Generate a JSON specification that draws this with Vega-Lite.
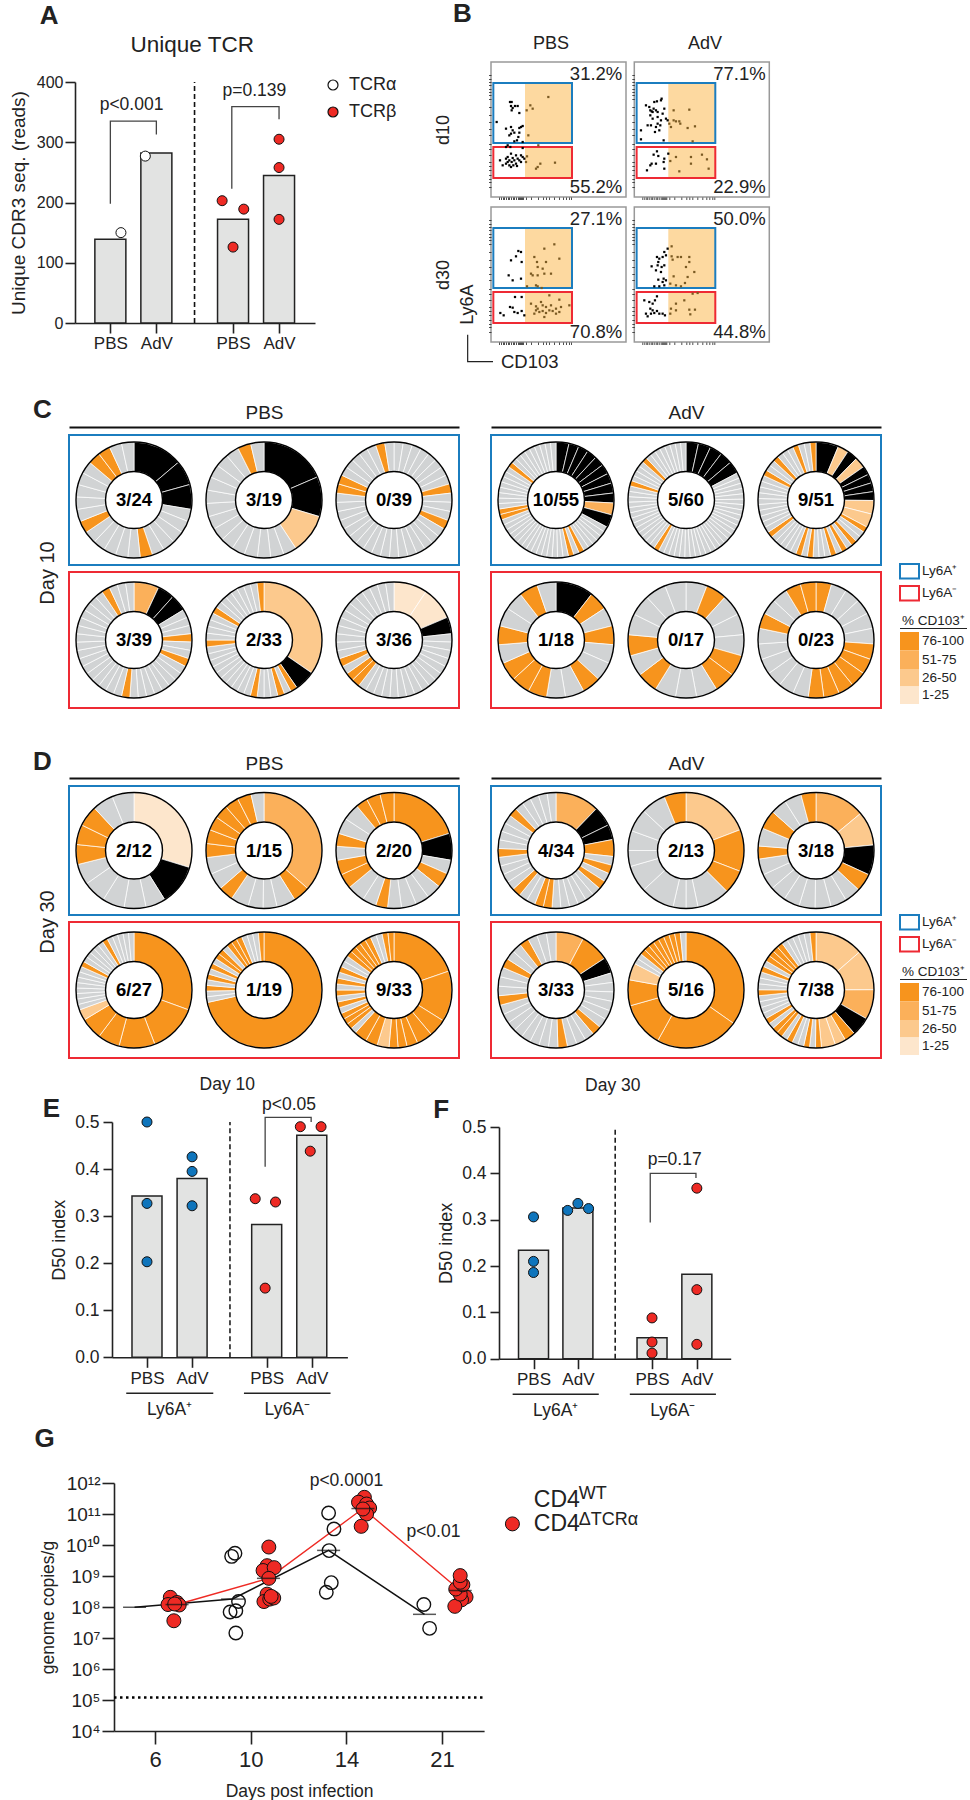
{"$schema":"https://vega.github.io/schema/vega-lite/v6.json","padding":0,"background":"#ffffff","bounds":"flush","spacing":0,
"config":{"font":"Liberation Sans","view":{"stroke":null},"axis":{"grid":false,"domainColor":"#222222","tickColor":"#222222","labelColor":"#222222","titleColor":"#222222","domainWidth":1.6,"tickWidth":1.6,"titleFontWeight":"normal","labelOverlap":false},"title":{"fontWeight":"normal","color":"#222222"},"text":{"color":"#222222"}},
"datasets":{
"slices":[
{"d":"a1","c":"k","v":4},{"d":"a1","c":"k","v":2},{"d":"a1","c":"k","v":2},{"d":"a1","c":"g","v":1},{"d":"a1","c":"g","v":1},{"d":"a1","c":"g","v":1},{"d":"a1","c":"g","v":1},{"d":"a1","c":"g","v":1},{"d":"a1","c":"O","v":1},{"d":"a1","c":"g","v":1},{"d":"a1","c":"g","v":1},{"d":"a1","c":"g","v":1},{"d":"a1","c":"g","v":1},{"d":"a1","c":"g","v":1},{"d":"a1","c":"O","v":1},{"d":"a1","c":"g","v":1},{"d":"a1","c":"g","v":1},{"d":"a1","c":"g","v":1},{"d":"a1","c":"g","v":1},{"d":"a1","c":"g","v":1},{"d":"a1","c":"O","v":1},{"d":"a1","c":"O","v":1},{"d":"a1","c":"g","v":1},{"d":"a1","c":"g","v":1},
{"d":"a2","c":"k","v":5},{"d":"a2","c":"k","v":3},{"d":"a2","c":"Q","v":3},{"d":"a2","c":"g","v":1},{"d":"a2","c":"g","v":1},{"d":"a2","c":"g","v":1},{"d":"a2","c":"g","v":1},{"d":"a2","c":"g","v":1},{"d":"a2","c":"g","v":1},{"d":"a2","c":"g","v":1},{"d":"a2","c":"g","v":1},{"d":"a2","c":"g","v":1},{"d":"a2","c":"g","v":1},{"d":"a2","c":"g","v":1},{"d":"a2","c":"g","v":1},{"d":"a2","c":"g","v":1},{"d":"a2","c":"g","v":1},{"d":"a2","c":"O","v":1},{"d":"a2","c":"g","v":1},
{"d":"a3","c":"g","v":1},{"d":"a3","c":"g","v":1},{"d":"a3","c":"g","v":1},{"d":"a3","c":"g","v":1},{"d":"a3","c":"g","v":1},{"d":"a3","c":"g","v":1},{"d":"a3","c":"g","v":1},{"d":"a3","c":"g","v":1},{"d":"a3","c":"O","v":1},{"d":"a3","c":"g","v":1},{"d":"a3","c":"g","v":1},{"d":"a3","c":"g","v":1},{"d":"a3","c":"O","v":1},{"d":"a3","c":"g","v":1},{"d":"a3","c":"g","v":1},{"d":"a3","c":"g","v":1},{"d":"a3","c":"g","v":1},{"d":"a3","c":"g","v":1},{"d":"a3","c":"g","v":1},{"d":"a3","c":"g","v":1},{"d":"a3","c":"g","v":1},{"d":"a3","c":"g","v":1},{"d":"a3","c":"g","v":1},{"d":"a3","c":"g","v":1},{"d":"a3","c":"g","v":1},{"d":"a3","c":"g","v":1},{"d":"a3","c":"g","v":1},{"d":"a3","c":"g","v":1},{"d":"a3","c":"g","v":1},{"d":"a3","c":"g","v":1},{"d":"a3","c":"O","v":1},{"d":"a3","c":"O","v":1},{"d":"a3","c":"g","v":1},{"d":"a3","c":"g","v":1},{"d":"a3","c":"g","v":1},{"d":"a3","c":"g","v":1},{"d":"a3","c":"g","v":1},{"d":"a3","c":"O","v":1},{"d":"a3","c":"g","v":1},
{"d":"b1","c":"P","v":3},{"d":"b1","c":"k","v":2},{"d":"b1","c":"k","v":2},{"d":"b1","c":"g","v":1},{"d":"b1","c":"g","v":1},{"d":"b1","c":"g","v":1},{"d":"b1","c":"O","v":1},{"d":"b1","c":"g","v":1},{"d":"b1","c":"g","v":1},{"d":"b1","c":"O","v":1},{"d":"b1","c":"g","v":1},{"d":"b1","c":"g","v":1},{"d":"b1","c":"g","v":1},{"d":"b1","c":"g","v":1},{"d":"b1","c":"g","v":1},{"d":"b1","c":"g","v":1},{"d":"b1","c":"g","v":1},{"d":"b1","c":"g","v":1},{"d":"b1","c":"O","v":1},{"d":"b1","c":"g","v":1},{"d":"b1","c":"g","v":1},{"d":"b1","c":"g","v":1},{"d":"b1","c":"g","v":1},{"d":"b1","c":"g","v":1},{"d":"b1","c":"g","v":1},{"d":"b1","c":"g","v":1},{"d":"b1","c":"g","v":1},{"d":"b1","c":"g","v":1},{"d":"b1","c":"g","v":1},{"d":"b1","c":"g","v":1},{"d":"b1","c":"g","v":1},{"d":"b1","c":"g","v":1},{"d":"b1","c":"g","v":1},{"d":"b1","c":"g","v":1},{"d":"b1","c":"g","v":1},{"d":"b1","c":"O","v":1},{"d":"b1","c":"g","v":1},{"d":"b1","c":"g","v":1},{"d":"b1","c":"g","v":1},
{"d":"b2","c":"Q","v":18},{"d":"b2","c":"k","v":3},{"d":"b2","c":"O","v":1},{"d":"b2","c":"g","v":1},{"d":"b2","c":"O","v":1},{"d":"b2","c":"g","v":1},{"d":"b2","c":"g","v":1},{"d":"b2","c":"g","v":1},{"d":"b2","c":"O","v":1},{"d":"b2","c":"g","v":1},{"d":"b2","c":"g","v":1},{"d":"b2","c":"g","v":1},{"d":"b2","c":"g","v":1},{"d":"b2","c":"g","v":1},{"d":"b2","c":"g","v":1},{"d":"b2","c":"g","v":1},{"d":"b2","c":"g","v":1},{"d":"b2","c":"g","v":1},{"d":"b2","c":"g","v":1},{"d":"b2","c":"O","v":1},{"d":"b2","c":"g","v":1},{"d":"b2","c":"g","v":1},{"d":"b2","c":"g","v":1},{"d":"b2","c":"g","v":1},{"d":"b2","c":"O","v":1},{"d":"b2","c":"g","v":1},{"d":"b2","c":"g","v":1},{"d":"b2","c":"g","v":1},{"d":"b2","c":"g","v":1},{"d":"b2","c":"g","v":1},{"d":"b2","c":"g","v":1},{"d":"b2","c":"g","v":1},{"d":"b2","c":"O","v":1},
{"d":"b3","c":"R","v":4},{"d":"b3","c":"R","v":4},{"d":"b3","c":"k","v":2},{"d":"b3","c":"g","v":1},{"d":"b3","c":"g","v":1},{"d":"b3","c":"g","v":1},{"d":"b3","c":"g","v":1},{"d":"b3","c":"g","v":1},{"d":"b3","c":"g","v":1},{"d":"b3","c":"g","v":1},{"d":"b3","c":"g","v":1},{"d":"b3","c":"g","v":1},{"d":"b3","c":"g","v":1},{"d":"b3","c":"g","v":1},{"d":"b3","c":"g","v":1},{"d":"b3","c":"g","v":1},{"d":"b3","c":"g","v":1},{"d":"b3","c":"g","v":1},{"d":"b3","c":"g","v":1},{"d":"b3","c":"O","v":1},{"d":"b3","c":"O","v":1},{"d":"b3","c":"g","v":1},{"d":"b3","c":"O","v":1},{"d":"b3","c":"g","v":1},{"d":"b3","c":"g","v":1},{"d":"b3","c":"g","v":1},{"d":"b3","c":"g","v":1},{"d":"b3","c":"g","v":1},{"d":"b3","c":"g","v":1},{"d":"b3","c":"g","v":1},{"d":"b3","c":"g","v":1},{"d":"b3","c":"g","v":1},{"d":"b3","c":"g","v":1},{"d":"b3","c":"g","v":1},{"d":"b3","c":"g","v":1},{"d":"b3","c":"g","v":1},
{"d":"c1","c":"k","v":13},{"d":"c1","c":"k","v":10},{"d":"c1","c":"k","v":10},{"d":"c1","c":"k","v":10},{"d":"c1","c":"k","v":10},{"d":"c1","c":"k","v":10},{"d":"c1","c":"k","v":10},{"d":"c1","c":"k","v":10},{"d":"c1","c":"k","v":10},{"d":"c1","c":"P","v":12},{"d":"c1","c":"k","v":13},{"d":"c1","c":"g","v":5.5},{"d":"c1","c":"g","v":5.5},{"d":"c1","c":"g","v":5.5},{"d":"c1","c":"g","v":5.5},{"d":"c1","c":"g","v":5.5},{"d":"c1","c":"g","v":5.5},{"d":"c1","c":"O","v":5.5},{"d":"c1","c":"g","v":5.5},{"d":"c1","c":"O","v":5.5},{"d":"c1","c":"g","v":5.5},{"d":"c1","c":"g","v":5.5},{"d":"c1","c":"g","v":5.5},{"d":"c1","c":"g","v":5.5},{"d":"c1","c":"g","v":5.5},{"d":"c1","c":"g","v":5.5},{"d":"c1","c":"g","v":5.5},{"d":"c1","c":"g","v":5.5},{"d":"c1","c":"g","v":5.5},{"d":"c1","c":"g","v":5.5},{"d":"c1","c":"g","v":5.5},{"d":"c1","c":"g","v":5.5},{"d":"c1","c":"g","v":5.5},{"d":"c1","c":"g","v":5.5},{"d":"c1","c":"g","v":5.5},{"d":"c1","c":"O","v":5.5},{"d":"c1","c":"O","v":5.5},{"d":"c1","c":"g","v":5.5},{"d":"c1","c":"g","v":5.5},{"d":"c1","c":"g","v":5.5},{"d":"c1","c":"g","v":5.5},{"d":"c1","c":"g","v":5.5},{"d":"c1","c":"g","v":5.5},{"d":"c1","c":"g","v":5.5},{"d":"c1","c":"g","v":5.5},{"d":"c1","c":"O","v":5.5},{"d":"c1","c":"g","v":5.5},{"d":"c1","c":"g","v":5.5},{"d":"c1","c":"g","v":5.5},{"d":"c1","c":"g","v":5.5},{"d":"c1","c":"g","v":5.5},{"d":"c1","c":"g","v":5.5},{"d":"c1","c":"g","v":5.5},{"d":"c1","c":"g","v":5.5},{"d":"c1","c":"g","v":5.5},
{"d":"c2","c":"k","v":12.4},{"d":"c2","c":"k","v":12.4},{"d":"c2","c":"k","v":12.4},{"d":"c2","c":"k","v":12.4},{"d":"c2","c":"k","v":12.4},{"d":"c2","c":"g","v":5.4},{"d":"c2","c":"g","v":5.4},{"d":"c2","c":"g","v":5.4},{"d":"c2","c":"g","v":5.4},{"d":"c2","c":"g","v":5.4},{"d":"c2","c":"g","v":5.4},{"d":"c2","c":"g","v":5.4},{"d":"c2","c":"g","v":5.4},{"d":"c2","c":"g","v":5.4},{"d":"c2","c":"g","v":5.4},{"d":"c2","c":"g","v":5.4},{"d":"c2","c":"g","v":5.4},{"d":"c2","c":"g","v":5.4},{"d":"c2","c":"g","v":5.4},{"d":"c2","c":"g","v":5.4},{"d":"c2","c":"g","v":5.4},{"d":"c2","c":"g","v":5.4},{"d":"c2","c":"g","v":5.4},{"d":"c2","c":"g","v":5.4},{"d":"c2","c":"g","v":5.4},{"d":"c2","c":"g","v":5.4},{"d":"c2","c":"g","v":5.4},{"d":"c2","c":"g","v":5.4},{"d":"c2","c":"g","v":5.4},{"d":"c2","c":"g","v":5.4},{"d":"c2","c":"g","v":5.4},{"d":"c2","c":"g","v":5.4},{"d":"c2","c":"O","v":5.4},{"d":"c2","c":"g","v":5.4},{"d":"c2","c":"g","v":5.4},{"d":"c2","c":"g","v":5.4},{"d":"c2","c":"g","v":5.4},{"d":"c2","c":"g","v":5.4},{"d":"c2","c":"g","v":5.4},{"d":"c2","c":"g","v":5.4},{"d":"c2","c":"g","v":5.4},{"d":"c2","c":"g","v":5.4},{"d":"c2","c":"g","v":5.4},{"d":"c2","c":"g","v":5.4},{"d":"c2","c":"g","v":5.4},{"d":"c2","c":"g","v":5.4},{"d":"c2","c":"O","v":5.4},{"d":"c2","c":"g","v":5.4},{"d":"c2","c":"g","v":5.4},{"d":"c2","c":"g","v":5.4},{"d":"c2","c":"g","v":5.4},{"d":"c2","c":"O","v":5.4},{"d":"c2","c":"g","v":5.4},{"d":"c2","c":"g","v":5.4},{"d":"c2","c":"g","v":5.4},{"d":"c2","c":"g","v":5.4},{"d":"c2","c":"g","v":5.4},{"d":"c2","c":"g","v":5.4},{"d":"c2","c":"g","v":5.4},{"d":"c2","c":"g","v":5.4},
{"d":"c3","c":"k","v":23},{"d":"c3","c":"Q","v":11},{"d":"c3","c":"k","v":11},{"d":"c3","c":"Q","v":11},{"d":"c3","c":"k","v":9},{"d":"c3","c":"k","v":9},{"d":"c3","c":"k","v":9},{"d":"c3","c":"k","v":9},{"d":"c3","c":"Q","v":14},{"d":"c3","c":"Q","v":14},{"d":"c3","c":"O","v":6},{"d":"c3","c":"g","v":6},{"d":"c3","c":"g","v":6},{"d":"c3","c":"O","v":6},{"d":"c3","c":"g","v":6},{"d":"c3","c":"O","v":6},{"d":"c3","c":"g","v":6},{"d":"c3","c":"O","v":6},{"d":"c3","c":"g","v":6},{"d":"c3","c":"g","v":6},{"d":"c3","c":"g","v":6},{"d":"c3","c":"O","v":6},{"d":"c3","c":"g","v":6},{"d":"c3","c":"O","v":6},{"d":"c3","c":"g","v":6},{"d":"c3","c":"g","v":6},{"d":"c3","c":"g","v":6},{"d":"c3","c":"g","v":6},{"d":"c3","c":"g","v":6},{"d":"c3","c":"O","v":6},{"d":"c3","c":"g","v":6},{"d":"c3","c":"g","v":6},{"d":"c3","c":"g","v":6},{"d":"c3","c":"g","v":6},{"d":"c3","c":"g","v":6},{"d":"c3","c":"g","v":6},{"d":"c3","c":"g","v":6},{"d":"c3","c":"g","v":6},{"d":"c3","c":"g","v":6},{"d":"c3","c":"g","v":6},{"d":"c3","c":"O","v":6},{"d":"c3","c":"g","v":6},{"d":"c3","c":"g","v":6},{"d":"c3","c":"O","v":6},{"d":"c3","c":"g","v":6},{"d":"c3","c":"g","v":6},{"d":"c3","c":"g","v":6},{"d":"c3","c":"O","v":6},{"d":"c3","c":"g","v":6},{"d":"c3","c":"g","v":6},{"d":"c3","c":"O","v":6},
{"d":"d1","c":"k","v":38},{"d":"d1","c":"O","v":19},{"d":"d1","c":"g","v":19},{"d":"d1","c":"O","v":19},{"d":"d1","c":"g","v":19},{"d":"d1","c":"g","v":19},{"d":"d1","c":"O","v":19},{"d":"d1","c":"g","v":19},{"d":"d1","c":"g","v":19},{"d":"d1","c":"O","v":19},{"d":"d1","c":"O","v":19},{"d":"d1","c":"O","v":19},{"d":"d1","c":"g","v":19},{"d":"d1","c":"O","v":19},{"d":"d1","c":"g","v":19},{"d":"d1","c":"g","v":19},{"d":"d1","c":"O","v":19},{"d":"d1","c":"g","v":19},
{"d":"d2","c":"g","v":1},{"d":"d2","c":"O","v":1},{"d":"d2","c":"g","v":1},{"d":"d2","c":"g","v":1},{"d":"d2","c":"g","v":1},{"d":"d2","c":"O","v":1},{"d":"d2","c":"O","v":1},{"d":"d2","c":"g","v":1},{"d":"d2","c":"g","v":1},{"d":"d2","c":"g","v":1},{"d":"d2","c":"O","v":1},{"d":"d2","c":"g","v":1},{"d":"d2","c":"O","v":1},{"d":"d2","c":"g","v":1},{"d":"d2","c":"g","v":1},{"d":"d2","c":"g","v":1},{"d":"d2","c":"g","v":1},
{"d":"d3","c":"O","v":1},{"d":"d3","c":"g","v":1},{"d":"d3","c":"g","v":1},{"d":"d3","c":"g","v":1},{"d":"d3","c":"g","v":1},{"d":"d3","c":"g","v":1},{"d":"d3","c":"O","v":1},{"d":"d3","c":"O","v":1},{"d":"d3","c":"O","v":1},{"d":"d3","c":"O","v":1},{"d":"d3","c":"O","v":1},{"d":"d3","c":"O","v":1},{"d":"d3","c":"g","v":1},{"d":"d3","c":"g","v":1},{"d":"d3","c":"g","v":1},{"d":"d3","c":"g","v":1},{"d":"d3","c":"g","v":1},{"d":"d3","c":"g","v":1},{"d":"d3","c":"O","v":1},{"d":"d3","c":"g","v":1},{"d":"d3","c":"g","v":1},{"d":"d3","c":"O","v":1},{"d":"d3","c":"O","v":1},
{"d":"e1","c":"R","v":107},{"d":"e1","c":"k","v":41},{"d":"e1","c":"g","v":20},{"d":"e1","c":"g","v":22},{"d":"e1","c":"g","v":22},{"d":"e1","c":"g","v":23},{"d":"e1","c":"g","v":21},{"d":"e1","c":"O","v":20},{"d":"e1","c":"O","v":20},{"d":"e1","c":"O","v":21},{"d":"e1","c":"g","v":21},{"d":"e1","c":"g","v":22},
{"d":"e2","c":"P","v":131},{"d":"e2","c":"O","v":17},{"d":"e2","c":"g","v":19},{"d":"e2","c":"g","v":14},{"d":"e2","c":"g","v":15},{"d":"e2","c":"g","v":18},{"d":"e2","c":"O","v":15},{"d":"e2","c":"g","v":17},{"d":"e2","c":"g","v":17},{"d":"e2","c":"O","v":14},{"d":"e2","c":"O","v":14},{"d":"e2","c":"O","v":14},{"d":"e2","c":"O","v":14},{"d":"e2","c":"O","v":14},{"d":"e2","c":"O","v":14},{"d":"e2","c":"g","v":13},
{"d":"e3","c":"O","v":73},{"d":"e3","c":"k","v":27},{"d":"e3","c":"g","v":14},{"d":"e3","c":"O","v":15},{"d":"e3","c":"g","v":15},{"d":"e3","c":"g","v":14},{"d":"e3","c":"g","v":15},{"d":"e3","c":"g","v":14},{"d":"e3","c":"O","v":12},{"d":"e3","c":"g","v":14},{"d":"e3","c":"g","v":18},{"d":"e3","c":"O","v":15},{"d":"e3","c":"O","v":15},{"d":"e3","c":"g","v":14},{"d":"e3","c":"O","v":13},{"d":"e3","c":"g","v":16},{"d":"e3","c":"g","v":17},{"d":"e3","c":"O","v":12},{"d":"e3","c":"O","v":14},{"d":"e3","c":"O","v":14},
{"d":"f1","c":"O","v":110},{"d":"f1","c":"O","v":49},{"d":"f1","c":"O","v":36},{"d":"f1","c":"O","v":22},{"d":"f1","c":"O","v":22},{"d":"f1","c":"Q","v":11},{"d":"f1","c":"g","v":5.5},{"d":"f1","c":"g","v":5.5},{"d":"f1","c":"g","v":5.5},{"d":"f1","c":"g","v":5.5},{"d":"f1","c":"g","v":5.5},{"d":"f1","c":"g","v":5.5},{"d":"f1","c":"g","v":5.5},{"d":"f1","c":"g","v":5.5},{"d":"f1","c":"O","v":5.5},{"d":"f1","c":"g","v":5.5},{"d":"f1","c":"g","v":5.5},{"d":"f1","c":"g","v":5.5},{"d":"f1","c":"g","v":5.5},{"d":"f1","c":"g","v":5.5},{"d":"f1","c":"O","v":5.5},{"d":"f1","c":"g","v":5.5},{"d":"f1","c":"g","v":5.5},{"d":"f1","c":"g","v":5.5},{"d":"f1","c":"g","v":5.5},{"d":"f1","c":"g","v":5.5},
{"d":"f2","c":"O","v":258},{"d":"f2","c":"g","v":5.7},{"d":"f2","c":"g","v":5.7},{"d":"f2","c":"O","v":5.7},{"d":"f2","c":"g","v":5.7},{"d":"f2","c":"O","v":5.7},{"d":"f2","c":"g","v":5.7},{"d":"f2","c":"O","v":5.7},{"d":"f2","c":"g","v":5.7},{"d":"f2","c":"O","v":5.7},{"d":"f2","c":"O","v":5.7},{"d":"f2","c":"g","v":5.7},{"d":"f2","c":"O","v":5.7},{"d":"f2","c":"O","v":5.7},{"d":"f2","c":"O","v":5.7},{"d":"f2","c":"g","v":5.7},{"d":"f2","c":"g","v":5.7},{"d":"f2","c":"g","v":5.7},{"d":"f2","c":"O","v":5.7},
{"d":"f3","c":"O","v":71},{"d":"f3","c":"O","v":51},{"d":"f3","c":"O","v":18},{"d":"f3","c":"O","v":16},{"d":"f3","c":"O","v":11},{"d":"f3","c":"O","v":9},{"d":"f3","c":"O","v":9},{"d":"f3","c":"Q","v":12},{"d":"f3","c":"O","v":12},{"d":"f3","c":"O","v":13},{"d":"f3","c":"g","v":6},{"d":"f3","c":"O","v":6},{"d":"f3","c":"O","v":6},{"d":"f3","c":"O","v":6},{"d":"f3","c":"g","v":6},{"d":"f3","c":"O","v":6},{"d":"f3","c":"g","v":6},{"d":"f3","c":"O","v":6},{"d":"f3","c":"g","v":6},{"d":"f3","c":"O","v":6},{"d":"f3","c":"g","v":6},{"d":"f3","c":"O","v":6},{"d":"f3","c":"g","v":6},{"d":"f3","c":"g","v":6},{"d":"f3","c":"O","v":6},{"d":"f3","c":"O","v":6},{"d":"f3","c":"O","v":6},{"d":"f3","c":"O","v":6},{"d":"f3","c":"O","v":6},{"d":"f3","c":"g","v":6},{"d":"f3","c":"g","v":6},{"d":"f3","c":"O","v":6},{"d":"f3","c":"O","v":6},
{"d":"g1","c":"P","v":44},{"d":"g1","c":"k","v":20},{"d":"g1","c":"k","v":15},{"d":"g1","c":"O","v":17},{"d":"g1","c":"g","v":8.8},{"d":"g1","c":"O","v":8.8},{"d":"g1","c":"g","v":8.8},{"d":"g1","c":"O","v":8.8},{"d":"g1","c":"g","v":8.8},{"d":"g1","c":"g","v":8.8},{"d":"g1","c":"g","v":8.8},{"d":"g1","c":"g","v":8.8},{"d":"g1","c":"g","v":8.8},{"d":"g1","c":"g","v":8.8},{"d":"g1","c":"O","v":8.8},{"d":"g1","c":"O","v":8.8},{"d":"g1","c":"g","v":8.8},{"d":"g1","c":"g","v":8.8},{"d":"g1","c":"O","v":8.8},{"d":"g1","c":"g","v":8.8},{"d":"g1","c":"g","v":8.8},{"d":"g1","c":"g","v":8.8},{"d":"g1","c":"g","v":8.8},{"d":"g1","c":"O","v":8.8},{"d":"g1","c":"g","v":8.8},{"d":"g1","c":"g","v":8.8},{"d":"g1","c":"g","v":8.8},{"d":"g1","c":"g","v":8.8},{"d":"g1","c":"O","v":8.8},{"d":"g1","c":"g","v":8.8},{"d":"g1","c":"g","v":8.8},{"d":"g1","c":"g","v":8.8},{"d":"g1","c":"g","v":8.8},{"d":"g1","c":"g","v":8.8},
{"d":"g2","c":"Q","v":69},{"d":"g2","c":"O","v":42},{"d":"g2","c":"O","v":24},{"d":"g2","c":"g","v":33},{"d":"g2","c":"g","v":12},{"d":"g2","c":"g","v":13},{"d":"g2","c":"g","v":34},{"d":"g2","c":"g","v":27},{"d":"g2","c":"g","v":16},{"d":"g2","c":"g","v":20},{"d":"g2","c":"g","v":23},{"d":"g2","c":"g","v":25},{"d":"g2","c":"O","v":22},
{"d":"g3","c":"P","v":50},{"d":"g3","c":"Q","v":34},{"d":"g3","c":"k","v":30},{"d":"g3","c":"O","v":18},{"d":"g3","c":"g","v":16},{"d":"g3","c":"g","v":16},{"d":"g3","c":"g","v":16},{"d":"g3","c":"g","v":16},{"d":"g3","c":"g","v":16},{"d":"g3","c":"g","v":16},{"d":"g3","c":"g","v":16},{"d":"g3","c":"g","v":16},{"d":"g3","c":"O","v":13},{"d":"g3","c":"g","v":18},{"d":"g3","c":"O","v":19},{"d":"g3","c":"g","v":16},{"d":"g3","c":"g","v":17},{"d":"g3","c":"O","v":15},
{"d":"h1","c":"P","v":28},{"d":"h1","c":"O","v":29},{"d":"h1","c":"k","v":16},{"d":"h1","c":"g","v":9.6},{"d":"h1","c":"g","v":9.6},{"d":"h1","c":"g","v":9.6},{"d":"h1","c":"g","v":9.6},{"d":"h1","c":"g","v":9.6},{"d":"h1","c":"g","v":9.6},{"d":"h1","c":"O","v":9.6},{"d":"h1","c":"g","v":9.6},{"d":"h1","c":"g","v":9.6},{"d":"h1","c":"g","v":9.6},{"d":"h1","c":"O","v":9.6},{"d":"h1","c":"g","v":9.6},{"d":"h1","c":"g","v":9.6},{"d":"h1","c":"g","v":9.6},{"d":"h1","c":"g","v":9.6},{"d":"h1","c":"g","v":9.6},{"d":"h1","c":"g","v":9.6},{"d":"h1","c":"g","v":9.6},{"d":"h1","c":"g","v":9.6},{"d":"h1","c":"O","v":9.6},{"d":"h1","c":"g","v":9.6},{"d":"h1","c":"g","v":9.6},{"d":"h1","c":"g","v":9.6},{"d":"h1","c":"O","v":9.6},{"d":"h1","c":"g","v":9.6},{"d":"h1","c":"g","v":9.6},{"d":"h1","c":"O","v":9.6},{"d":"h1","c":"g","v":9.6},{"d":"h1","c":"g","v":9.6},{"d":"h1","c":"g","v":9.6},
{"d":"h2","c":"O","v":125},{"d":"h2","c":"O","v":84},{"d":"h2","c":"O","v":45},{"d":"h2","c":"O","v":26},{"d":"h2","c":"Q","v":17},{"d":"h2","c":"g","v":5.7},{"d":"h2","c":"g","v":5.7},{"d":"h2","c":"O","v":5.7},{"d":"h2","c":"O","v":5.7},{"d":"h2","c":"O","v":5.7},{"d":"h2","c":"O","v":5.7},{"d":"h2","c":"O","v":5.7},{"d":"h2","c":"O","v":5.7},{"d":"h2","c":"O","v":5.7},{"d":"h2","c":"O","v":5.7},{"d":"h2","c":"g","v":5.7},
{"d":"h3","c":"Q","v":49},{"d":"h3","c":"Q","v":41},{"d":"h3","c":"P","v":30},{"d":"h3","c":"k","v":19},{"d":"h3","c":"O","v":11},{"d":"h3","c":"Q","v":11},{"d":"h3","c":"Q","v":14},{"d":"h3","c":"O","v":6},{"d":"h3","c":"g","v":6},{"d":"h3","c":"O","v":6},{"d":"h3","c":"g","v":6},{"d":"h3","c":"g","v":6},{"d":"h3","c":"O","v":6},{"d":"h3","c":"g","v":6},{"d":"h3","c":"O","v":6},{"d":"h3","c":"O","v":6},{"d":"h3","c":"g","v":6},{"d":"h3","c":"O","v":6},{"d":"h3","c":"g","v":6},{"d":"h3","c":"g","v":6},{"d":"h3","c":"g","v":6},{"d":"h3","c":"g","v":6},{"d":"h3","c":"O","v":6},{"d":"h3","c":"g","v":6},{"d":"h3","c":"g","v":6},{"d":"h3","c":"g","v":6},{"d":"h3","c":"O","v":6},{"d":"h3","c":"g","v":6},{"d":"h3","c":"O","v":6},{"d":"h3","c":"O","v":6},{"d":"h3","c":"O","v":6},{"d":"h3","c":"O","v":6},{"d":"h3","c":"g","v":6},{"d":"h3","c":"g","v":6},{"d":"h3","c":"g","v":6},{"d":"h3","c":"g","v":6},{"d":"h3","c":"g","v":6},{"d":"h3","c":"O","v":6}
],
"donuts":[{"d":"a1","t":"3/24"},{"d":"a2","t":"3/19"},{"d":"a3","t":"0/39"},{"d":"b1","t":"3/39"},{"d":"b2","t":"2/33"},{"d":"b3","t":"3/36"},{"d":"c1","t":"10/55"},{"d":"c2","t":"5/60"},{"d":"c3","t":"9/51"},{"d":"d1","t":"1/18"},{"d":"d2","t":"0/17"},{"d":"d3","t":"0/23"},{"d":"e1","t":"2/12"},{"d":"e2","t":"1/15"},{"d":"e3","t":"2/20"},{"d":"f1","t":"6/27"},{"d":"f2","t":"1/19"},{"d":"f3","t":"9/33"},{"d":"g1","t":"4/34"},{"d":"g2","t":"2/13"},{"d":"g3","t":"3/18"},{"d":"h1","t":"3/33"},{"d":"h2","t":"5/16"},{"d":"h3","t":"7/38"}],
"orangeGate":[{"x":102,"x2":243,"y":63,"y2":243},{"x":102,"x2":243,"y":255,"y2":348}],
"boxGate":[{"x":7,"x2":243,"y":63,"y2":243,"s":"b"},{"x":7,"x2":243,"y":255,"y2":348,"s":"r"}],
"facs":[
{"p":1,"x":57,"y":120},{"p":1,"x":62,"y":120},{"p":1,"x":60,"y":132},{"p":1,"x":65,"y":138},{"p":1,"x":72,"y":132},{"p":1,"x":80,"y":132},{"p":1,"x":62,"y":145},{"p":1,"x":85,"y":153},{"p":1,"x":17,"y":180},{"p":1,"x":60,"y":195},{"p":1,"x":45,"y":200},{"p":1,"x":65,"y":205},{"p":1,"x":85,"y":198},{"p":1,"x":90,"y":195},{"p":1,"x":95,"y":192},{"p":1,"x":60,"y":215},{"p":1,"x":70,"y":212},{"p":1,"x":55,"y":220},{"p":1,"x":85,"y":212},{"p":1,"x":82,"y":225},{"p":1,"x":78,"y":235},{"p":1,"x":70,"y":238},{"p":1,"x":107,"y":145},{"p":1,"x":118,"y":130},{"p":1,"x":125,"y":140},{"p":1,"x":172,"y":105},{"p":1,"x":112,"y":220},{"p":1,"x":50,"y":250},{"p":1,"x":45,"y":255},{"p":1,"x":58,"y":255},{"p":1,"x":95,"y":258},{"p":1,"x":142,"y":250},{"p":1,"x":95,"y":240},{"p":1,"x":27,"y":295},{"p":1,"x":45,"y":290},{"p":1,"x":50,"y":285},{"p":1,"x":55,"y":295},{"p":1,"x":60,"y":275},{"p":1,"x":62,"y":300},{"p":1,"x":65,"y":288},{"p":1,"x":70,"y":295},{"p":1,"x":75,"y":280},{"p":1,"x":75,"y":305},{"p":1,"x":80,"y":290},{"p":1,"x":85,"y":295},{"p":1,"x":55,"y":310},{"p":1,"x":60,"y":315},{"p":1,"x":67,"y":310},{"p":1,"x":45,"y":305},{"p":1,"x":50,"y":300},{"p":1,"x":35,"y":310},{"p":1,"x":78,"y":312},{"p":1,"x":90,"y":300},{"p":1,"x":95,"y":285},{"p":1,"x":100,"y":290},{"p":1,"x":90,"y":280},{"p":1,"x":108,"y":283},{"p":1,"x":105,"y":300},{"p":1,"x":135,"y":320},{"p":1,"x":140,"y":315},{"p":1,"x":148,"y":305},{"p":1,"x":192,"y":302},
{"p":2,"x":20,"y":205},{"p":2,"x":20,"y":232},{"p":2,"x":35,"y":130},{"p":2,"x":45,"y":135},{"p":2,"x":48,"y":145},{"p":2,"x":52,"y":148},{"p":2,"x":55,"y":150},{"p":2,"x":58,"y":140},{"p":2,"x":65,"y":145},{"p":2,"x":70,"y":150},{"p":2,"x":60,"y":120},{"p":2,"x":68,"y":118},{"p":2,"x":80,"y":115},{"p":2,"x":82,"y":110},{"p":2,"x":90,"y":140},{"p":2,"x":85,"y":155},{"p":2,"x":48,"y":160},{"p":2,"x":55,"y":170},{"p":2,"x":70,"y":165},{"p":2,"x":40,"y":190},{"p":2,"x":50,"y":190},{"p":2,"x":65,"y":195},{"p":2,"x":70,"y":185},{"p":2,"x":78,"y":190},{"p":2,"x":75,"y":205},{"p":2,"x":62,"y":210},{"p":2,"x":80,"y":175},{"p":2,"x":95,"y":170},{"p":2,"x":100,"y":175},{"p":2,"x":88,"y":235},{"p":2,"x":118,"y":145},{"p":2,"x":165,"y":143},{"p":2,"x":118,"y":175},{"p":2,"x":125,"y":178},{"p":2,"x":135,"y":178},{"p":2,"x":138,"y":185},{"p":2,"x":110,"y":195},{"p":2,"x":160,"y":198},{"p":2,"x":182,"y":193},{"p":2,"x":175,"y":238},{"p":2,"x":105,"y":185},{"p":2,"x":68,"y":268},{"p":2,"x":58,"y":278},{"p":2,"x":72,"y":282},{"p":2,"x":52,"y":305},{"p":2,"x":38,"y":325},{"p":2,"x":48,"y":310},{"p":2,"x":65,"y":305},{"p":2,"x":88,"y":300},{"p":2,"x":90,"y":320},{"p":2,"x":102,"y":275},{"p":2,"x":90,"y":290},{"p":2,"x":125,"y":285},{"p":2,"x":108,"y":297},{"p":2,"x":170,"y":285},{"p":2,"x":170,"y":305},{"p":2,"x":203,"y":278},{"p":2,"x":218,"y":292},{"p":2,"x":223,"y":320},{"p":2,"x":135,"y":328},
{"p":3,"x":82,"y":132},{"p":3,"x":90,"y":135},{"p":3,"x":75,"y":148},{"p":3,"x":60,"y":160},{"p":3,"x":92,"y":165},{"p":3,"x":53,"y":205},{"p":3,"x":65,"y":220},{"p":3,"x":90,"y":215},{"p":3,"x":190,"y":112},{"p":3,"x":160,"y":125},{"p":3,"x":205,"y":155},{"p":3,"x":130,"y":150},{"p":3,"x":165,"y":165},{"p":3,"x":138,"y":165},{"p":3,"x":140,"y":180},{"p":3,"x":155,"y":185},{"p":3,"x":120,"y":200},{"p":3,"x":125,"y":205},{"p":3,"x":140,"y":205},{"p":3,"x":160,"y":200},{"p":3,"x":180,"y":200},{"p":3,"x":108,"y":238},{"p":3,"x":135,"y":235},{"p":3,"x":140,"y":238},{"p":3,"x":152,"y":243},{"p":3,"x":72,"y":270},{"p":3,"x":92,"y":270},{"p":3,"x":57,"y":300},{"p":3,"x":65,"y":302},{"p":3,"x":28,"y":318},{"p":3,"x":38,"y":325},{"p":3,"x":70,"y":315},{"p":3,"x":80,"y":318},{"p":3,"x":92,"y":312},{"p":3,"x":100,"y":325},{"p":3,"x":175,"y":265},{"p":3,"x":205,"y":278},{"p":3,"x":150,"y":285},{"p":3,"x":120,"y":290},{"p":3,"x":135,"y":298},{"p":3,"x":155,"y":295},{"p":3,"x":165,"y":300},{"p":3,"x":180,"y":295},{"p":3,"x":195,"y":305},{"p":3,"x":210,"y":300},{"p":3,"x":135,"y":310},{"p":3,"x":145,"y":315},{"p":3,"x":155,"y":312},{"p":3,"x":165,"y":318},{"p":3,"x":175,"y":310},{"p":3,"x":185,"y":312},{"p":3,"x":195,"y":320},{"p":3,"x":205,"y":315},{"p":3,"x":235,"y":295},{"p":3,"x":160,"y":330},{"p":3,"x":130,"y":320},{"p":3,"x":140,"y":305},
{"p":4,"x":68,"y":150},{"p":4,"x":75,"y":155},{"p":4,"x":85,"y":150},{"p":4,"x":90,"y":135},{"p":4,"x":95,"y":145},{"p":4,"x":72,"y":165},{"p":4,"x":100,"y":125},{"p":4,"x":52,"y":178},{"p":4,"x":70,"y":175},{"p":4,"x":82,"y":180},{"p":4,"x":90,"y":175},{"p":4,"x":65,"y":190},{"p":4,"x":80,"y":195},{"p":4,"x":88,"y":215},{"p":4,"x":72,"y":218},{"p":4,"x":95,"y":220},{"p":4,"x":85,"y":225},{"p":4,"x":60,"y":238},{"p":4,"x":75,"y":238},{"p":4,"x":90,"y":235},{"p":4,"x":112,"y":118},{"p":4,"x":112,"y":148},{"p":4,"x":130,"y":150},{"p":4,"x":140,"y":150},{"p":4,"x":165,"y":150},{"p":4,"x":115,"y":158},{"p":4,"x":165,"y":165},{"p":4,"x":155,"y":180},{"p":4,"x":160,"y":210},{"p":4,"x":118,"y":208},{"p":4,"x":108,"y":230},{"p":4,"x":125,"y":235},{"p":4,"x":140,"y":238},{"p":4,"x":152,"y":228},{"p":4,"x":180,"y":195},{"p":4,"x":68,"y":268},{"p":4,"x":30,"y":280},{"p":4,"x":45,"y":285},{"p":4,"x":55,"y":290},{"p":4,"x":62,"y":280},{"p":4,"x":35,"y":320},{"p":4,"x":48,"y":305},{"p":4,"x":55,"y":310},{"p":4,"x":60,"y":318},{"p":4,"x":68,"y":312},{"p":4,"x":75,"y":320},{"p":4,"x":85,"y":320},{"p":4,"x":40,"y":328},{"p":4,"x":92,"y":325},{"p":4,"x":50,"y":320},{"p":4,"x":175,"y":260},{"p":4,"x":190,"y":258},{"p":4,"x":150,"y":280},{"p":4,"x":125,"y":290},{"p":4,"x":110,"y":305},{"p":4,"x":125,"y":310},{"p":4,"x":165,"y":308},{"p":4,"x":182,"y":308},{"p":4,"x":168,"y":322},{"p":4,"x":108,"y":320}
],
"pct":[{"p":1,"x":394,"y":36,"t":"31.2%"},{"p":1,"x":394,"y":376,"t":"55.2%"},{"p":2,"x":394,"y":36,"t":"77.1%"},{"p":2,"x":394,"y":376,"t":"22.9%"},{"p":3,"x":394,"y":36,"t":"27.1%"},{"p":3,"x":394,"y":376,"t":"70.8%"},{"p":4,"x":394,"y":36,"t":"50.0%"},{"p":4,"x":394,"y":376,"t":"44.8%"}],
"swatch":[{"t":"76-100","c":"O","x":0,"x2":19,"y":197,"y2":215.5,"ty":206},{"t":"51-75","c":"P","x":0,"x2":19,"y":215.5,"y2":234,"ty":225},{"t":"26-50","c":"Q","x":0,"x2":19,"y":234,"y2":251.5,"ty":243},{"t":"1-25","c":"R","x":0,"x2":19,"y":251.5,"y2":269,"ty":260}],
"legBox":[{"x":0,"x2":19,"y":129,"y2":143.5,"s":"b"},{"x":0,"x2":19,"y":151,"y2":165.5,"s":"r"}],
"legText":[{"t":"Ly6A⁺","x":22,"y":136},{"t":"Ly6A⁻","x":22,"y":158},{"t":"% CD103⁺","x":2,"y":186}]
},
"vconcat":[
{"width":1,"height":60,"data":{"values":[{}]},"mark":{"type":"text","text":""}},
{"bounds":"flush","spacing":0,"hconcat":[
{"width":75,"height":1,"data":{"values":[{}]},"mark":{"type":"text","text":""}},
{"bounds":"flush","spacing":0,"vconcat":[
{"width":1,"height":20,"data":{"values":[{}]},"mark":{"type":"text","text":""}},
{"width":240,"height":241,
"encoding":{"x":{"field":"pos","type":"quantitative","scale":{"domain":[0.34,5.34],"nice":false,"zero":false},"axis":{"values":[1,2,3.667,4.667],"labelExpr":"datum.value<2||(datum.value>3&&datum.value<4)?'PBS':'AdV'","tickSize":10,"title":null,"labelFontSize":17,"labelPadding":2}},"y":{"field":"v","type":"quantitative","stack":null,"scale":{"domain":[0,400],"nice":false},"axis":{"values":[0,100,200,300,400],"tickSize":10,"labelFontSize":16,"labelPadding":2,"title":"Unique CDR3 seq. (reads)","titleFontSize":19,"titlePadding":8}}},
"layer":[
{"data":{"values":[{"pos":1,"v":139,"g":"PBS TCRα"},{"pos":2,"v":282,"g":"AdV TCRα"},{"pos":3.667,"v":172,"g":"PBS TCRβ"},{"pos":4.667,"v":245,"g":"AdV TCRβ"}]},"mark":{"type":"bar","orient":"vertical","width":31,"fill":"#e2e3e2","stroke":"#222222","strokeWidth":1.5}},
{"data":{"values":[{"pos":2.83,"v":0,"v2":400}]},"mark":{"type":"rule","strokeDash":[5,3],"strokeWidth":1.6,"color":"#111111"},"encoding":{"y2":{"field":"v2"}}},
{"data":{"values":[{"g":"a","pos":1,"v":198},{"g":"a","pos":1,"v":335},{"g":"a","pos":2,"v":335},{"g":"a","pos":2,"v":313},{"g":"b","pos":3.64,"v":223},{"g":"b","pos":3.64,"v":359},{"g":"b","pos":4.667,"v":359},{"g":"b","pos":4.667,"v":338}]},"mark":{"type":"line","color":"#444444","strokeWidth":1.3},"encoding":{"detail":{"field":"g"}}},
{"data":{"values":[{"pos":1.23,"v":150,"s":"TCRα"},{"pos":1.76,"v":277,"s":"TCRα"},{"pos":3.43,"v":203,"s":"TCRβ"},{"pos":3.9,"v":189,"s":"TCRβ"},{"pos":3.667,"v":126,"s":"TCRβ"},{"pos":4.667,"v":305,"s":"TCRβ"},{"pos":4.667,"v":258,"s":"TCRβ"},{"pos":4.667,"v":172,"s":"TCRβ"}]},"mark":{"type":"point","filled":true,"opacity":1,"stroke":"#111111","strokeWidth":1,"size":100},"encoding":{"fill":{"field":"s","type":"nominal","scale":{"domain":["TCRα","TCRβ"],"range":["#ffffff","#ee2a24"]},"legend":{"title":null,"orient":"none","legendX":324,"legendY":74,"symbolType":"circle","symbolSize":100,"symbolStrokeColor":"#111111","symbolStrokeWidth":1.2,"labelFontSize":18,"labelColor":"#222222","rowPadding":9,"labelOffset":7}}}},
{"data":{"values":[{"pos":1.46,"v":362,"t":"p<0.001"},{"pos":4.13,"v":385,"t":"p=0.139"}]},"mark":{"type":"text","fontSize":17.5},"encoding":{"text":{"field":"t"}}},
{"data":{"values":[{"pos":2.78,"v":461,"t":"Unique TCR"}]},"mark":{"type":"text","fontSize":22.5},"encoding":{"text":{"field":"t"}}},
{"data":{"values":[{"pos":-0.535,"v":509,"t":"A"}]},"mark":{"type":"text","fontSize":26,"fontWeight":"bold","align":"left"},"encoding":{"text":{"field":"t"}}}
]}
]},
{"width":416,"height":1,"data":{"values":[{}]},"mark":{"type":"text","text":""}},
{"bounds":"flush","spacing":0,"vconcat":[
{"bounds":"flush","spacing":8.3,"hconcat":[
{"width":135,"height":135,"view":{"stroke":"#999999","strokeWidth":1.5},"encoding":{"x":{"field":"x","type":"quantitative","scale":{"domain":[0,405],"nice":false},"axis":{"values":[25,30,35,40,45,50,55,60,65,70,75,80,85,88,90,92,95,105,120,140,155,165,175,190,205,215,225,235,240],"labels":false,"domain":false,"tickSize":2.5,"tickWidth":0.8,"title":null}},"y":{"field":"y","type":"quantitative","scale":{"domain":[405,0],"nice":false},"axis":{"values":[38,50,60,70,80,90,100,110,135,160,180,200,220,245,260,280,300,312,325,340,350,360,375],"labels":false,"domain":false,"tickSize":2.5,"tickWidth":0.8,"title":"d10","titleFontSize":18,"titlePadding":36}}},
"layer":[
{"data":{"name":"orangeGate"},"mark":{"type":"rect","fill":"#fdd9a0"},"encoding":{"x2":{"field":"x2"},"y2":{"field":"y2"}}},
{"data":{"name":"boxGate"},"mark":{"type":"rect","fillOpacity":0,"strokeWidth":2},"encoding":{"x2":{"field":"x2"},"y2":{"field":"y2"},"stroke":{"field":"s","type":"nominal","scale":{"domain":["b","r"],"range":["#1b7dbf","#ee2a34"]},"legend":null}}},
{"data":{"name":"facs"},"transform":[{"filter":"datum.p==1"}],"mark":{"type":"square","size":5,"opacity":1},"encoding":{"color":{"condition":{"test":"datum.x>102","value":"#7a5a22"},"value":"#000000"}}},
{"data":{"name":"pct"},"transform":[{"filter":"datum.p==1"}],"mark":{"type":"text","fontSize":18.5,"align":"right"},"encoding":{"text":{"field":"t"}}},
{"data":{"values":[{"x":180,"y":-53,"t":"PBS"}]},"mark":{"type":"text","fontSize":18},"encoding":{"text":{"field":"t"}}},
{"data":{"values":[{"x":-114,"y":-143,"t":"B"}]},"mark":{"type":"text","fontSize":26,"fontWeight":"bold","align":"left"},"encoding":{"text":{"field":"t"}}}
]},
{"width":135,"height":135,"view":{"stroke":"#999999","strokeWidth":1.5},"encoding":{"x":{"field":"x","type":"quantitative","scale":{"domain":[0,405],"nice":false},"axis":{"values":[25,30,35,40,45,50,55,60,65,70,75,80,85,88,90,92,95,105,120,140,155,165,175,190,205,215,225,235,240],"labels":false,"domain":false,"tickSize":2.5,"tickWidth":0.8,"title":null}},"y":{"field":"y","type":"quantitative","scale":{"domain":[405,0],"nice":false},"axis":{"values":[38,50,60,70,80,90,100,110,135,160,180,200,220,245,260,280,300,312,325,340,350,360,375],"labels":false,"domain":false,"tickSize":2.5,"tickWidth":0.8,"title":null}}},
"layer":[
{"data":{"name":"orangeGate"},"mark":{"type":"rect","fill":"#fdd9a0"},"encoding":{"x2":{"field":"x2"},"y2":{"field":"y2"}}},
{"data":{"name":"boxGate"},"mark":{"type":"rect","fillOpacity":0,"strokeWidth":2},"encoding":{"x2":{"field":"x2"},"y2":{"field":"y2"},"stroke":{"field":"s","type":"nominal","scale":{"domain":["b","r"],"range":["#1b7dbf","#ee2a34"]},"legend":null}}},
{"data":{"name":"facs"},"transform":[{"filter":"datum.p==2"}],"mark":{"type":"square","size":5,"opacity":1},"encoding":{"color":{"condition":{"test":"datum.x>102","value":"#7a5a22"},"value":"#000000"}}},
{"data":{"name":"pct"},"transform":[{"filter":"datum.p==2"}],"mark":{"type":"text","fontSize":18.5,"align":"right"},"encoding":{"text":{"field":"t"}}},
{"data":{"values":[{"x":212,"y":-53,"t":"AdV"}]},"mark":{"type":"text","fontSize":18},"encoding":{"text":{"field":"t"}}}
]}
]},
{"width":1,"height":144.6,"data":{"values":[{}]},"mark":{"type":"text","text":""}},
{"bounds":"flush","spacing":8.3,"hconcat":[
{"width":135,"height":135,"view":{"stroke":"#999999","strokeWidth":1.5},"encoding":{"x":{"field":"x","type":"quantitative","scale":{"domain":[0,405],"nice":false},"axis":{"values":[25,30,35,40,45,50,55,60,65,70,75,80,85,88,90,92,95,105,120,140,155,165,175,190,205,215,225,235,240],"labels":false,"domain":false,"tickSize":2.5,"tickWidth":0.8,"title":null}},"y":{"field":"y","type":"quantitative","scale":{"domain":[405,0],"nice":false},"axis":{"values":[38,50,60,70,80,90,100,110,135,160,180,200,220,245,260,280,300,312,325,340,350,360,375],"labels":false,"domain":false,"tickSize":2.5,"tickWidth":0.8,"title":"d30","titleFontSize":18,"titlePadding":36}}},
"layer":[
{"data":{"name":"orangeGate"},"mark":{"type":"rect","fill":"#fdd9a0"},"encoding":{"x2":{"field":"x2"},"y2":{"field":"y2"}}},
{"data":{"name":"boxGate"},"mark":{"type":"rect","fillOpacity":0,"strokeWidth":2},"encoding":{"x2":{"field":"x2"},"y2":{"field":"y2"},"stroke":{"field":"s","type":"nominal","scale":{"domain":["b","r"],"range":["#1b7dbf","#ee2a34"]},"legend":null}}},
{"data":{"name":"facs"},"transform":[{"filter":"datum.p==3"}],"mark":{"type":"square","size":5,"opacity":1},"encoding":{"color":{"condition":{"test":"datum.x>102","value":"#7a5a22"},"value":"#000000"}}},
{"data":{"name":"pct"},"transform":[{"filter":"datum.p==3"}],"mark":{"type":"text","fontSize":18.5,"align":"right"},"encoding":{"text":{"field":"t"}}},
{"data":{"values":[{"x":-70,"y":383},{"x":-70,"y":464},{"x":6,"y":464}]},"mark":{"type":"line","color":"#222222","strokeWidth":1.2,"interpolate":"linear"},"encoding":{"order":{"field":"y"}}},
{"data":{"values":[{"x":30,"y":464,"t":"CD103"}]},"mark":{"type":"text","fontSize":18.5,"align":"left"},"encoding":{"text":{"field":"t"}}},
{"data":{"values":[{"x":-69,"y":293,"t":"Ly6A"}]},"mark":{"type":"text","fontSize":18,"angle":270},"encoding":{"text":{"field":"t"}}}
]},
{"width":135,"height":135,"view":{"stroke":"#999999","strokeWidth":1.5},"encoding":{"x":{"field":"x","type":"quantitative","scale":{"domain":[0,405],"nice":false},"axis":{"values":[25,30,35,40,45,50,55,60,65,70,75,80,85,88,90,92,95,105,120,140,155,165,175,190,205,215,225,235,240],"labels":false,"domain":false,"tickSize":2.5,"tickWidth":0.8,"title":null}},"y":{"field":"y","type":"quantitative","scale":{"domain":[405,0],"nice":false},"axis":{"values":[38,50,60,70,80,90,100,110,135,160,180,200,220,245,260,280,300,312,325,340,350,360,375],"labels":false,"domain":false,"tickSize":2.5,"tickWidth":0.8,"title":null}}},
"layer":[
{"data":{"name":"orangeGate"},"mark":{"type":"rect","fill":"#fdd9a0"},"encoding":{"x2":{"field":"x2"},"y2":{"field":"y2"}}},
{"data":{"name":"boxGate"},"mark":{"type":"rect","fillOpacity":0,"strokeWidth":2},"encoding":{"x2":{"field":"x2"},"y2":{"field":"y2"},"stroke":{"field":"s","type":"nominal","scale":{"domain":["b","r"],"range":["#1b7dbf","#ee2a34"]},"legend":null}}},
{"data":{"name":"facs"},"transform":[{"filter":"datum.p==4"}],"mark":{"type":"square","size":5,"opacity":1},"encoding":{"color":{"condition":{"test":"datum.x>102","value":"#7a5a22"},"value":"#000000"}}},
{"data":{"name":"pct"},"transform":[{"filter":"datum.p==4"}],"mark":{"type":"text","fontSize":18.5,"align":"right"},"encoding":{"text":{"field":"t"}}}
]}
]}
]}
]},
{"width":1,"height":373,"data":{"values":[{}]},"mark":{"type":"text","text":""}},
{"bounds":"flush","spacing":0,"hconcat":[
{"width":69,"height":272,"data":{"values":[{"x":33,"y":-25,"t":"C"}]},"encoding":{"x":{"field":"x","type":"quantitative","scale":{"domain":[0,69],"nice":false},"axis":null},"y":{"field":"y","type":"quantitative","scale":{"domain":[272,0],"nice":false},"axis":null}},"layer":[
{"mark":{"type":"text","fontSize":26,"fontWeight":"bold","align":"left"},"encoding":{"text":{"field":"t"}}},
{"data":{"values":[{"x":48,"y":138,"t":"Day 10"}]},"mark":{"type":"text","fontSize":20,"angle":270},"encoding":{"text":{"field":"t"}}}]},
{"bounds":"flush","spacing":7,"vconcat":[
{"width":390,"height":130,"view":{"stroke":"#1b7dbf","strokeWidth":2},"encoding":{"x":{"field":"d","type":"nominal","scale":{"type":"point","padding":0.5},"axis":{"orient":"top","labels":false,"ticks":false,"domainColor":"#111111","domainWidth":2,"offset":8,"title":"PBS","titleFontSize":19,"titlePadding":5}}},"layer":[
{"data":{"name":"slices"},"transform":[{"filter":{"field":"d","oneOf":["a1","a2","a3"]}},{"stack":"v","groupby":["d"],"offset":"normalize","as":["t0","t1"]}],"mark":{"type":"arc","innerRadius":28.5,"outerRadius":58,"stroke":"#ffffff","strokeWidth":0.7},"encoding":{"theta":{"field":"t0","type":"quantitative","stack":null,"scale":{"domain":[0,1],"range":[0,6.2832]}},"theta2":{"field":"t1"},"color":{"field":"c","type":"nominal","scale":{"domain":["g","k","O","P","Q","R"],"range":["#d1d3d4","#000000","#f7941d","#fbb05a","#fcc98d","#fde6cc"]},"legend":null}}},
{"data":{"name":"donuts"},"transform":[{"filter":{"field":"d","oneOf":["a1","a2","a3"]}}],"mark":{"type":"point","shape":"circle","filled":false,"opacity":1,"stroke":"#000000","strokeWidth":1.4,"size":13456}},
{"data":{"name":"donuts"},"transform":[{"filter":{"field":"d","oneOf":["a1","a2","a3"]}}],"mark":{"type":"point","shape":"circle","filled":true,"opacity":1,"fill":"#ffffff","stroke":"#000000","strokeWidth":1.4,"size":3249}},
{"data":{"name":"donuts"},"transform":[{"filter":{"field":"d","oneOf":["a1","a2","a3"]}}],"mark":{"type":"text","fontSize":18.5,"fontWeight":"bold","color":"#000000"},"encoding":{"text":{"field":"t"}}}]},
{"width":390,"height":136,"view":{"stroke":"#ee2a34","strokeWidth":2},"encoding":{"x":{"field":"d","type":"nominal","scale":{"type":"point","padding":0.5},"axis":null}},"layer":[
{"data":{"name":"slices"},"transform":[{"filter":{"field":"d","oneOf":["b1","b2","b3"]}},{"stack":"v","groupby":["d"],"offset":"normalize","as":["t0","t1"]}],"mark":{"type":"arc","innerRadius":28.5,"outerRadius":58,"stroke":"#ffffff","strokeWidth":0.7},"encoding":{"theta":{"field":"t0","type":"quantitative","stack":null,"scale":{"domain":[0,1],"range":[0,6.2832]}},"theta2":{"field":"t1"},"color":{"field":"c","type":"nominal","scale":{"domain":["g","k","O","P","Q","R"],"range":["#d1d3d4","#000000","#f7941d","#fbb05a","#fcc98d","#fde6cc"]},"legend":null}}},
{"data":{"name":"donuts"},"transform":[{"filter":{"field":"d","oneOf":["b1","b2","b3"]}}],"mark":{"type":"point","shape":"circle","filled":false,"opacity":1,"stroke":"#000000","strokeWidth":1.4,"size":13456}},
{"data":{"name":"donuts"},"transform":[{"filter":{"field":"d","oneOf":["b1","b2","b3"]}}],"mark":{"type":"point","shape":"circle","filled":true,"opacity":1,"fill":"#ffffff","stroke":"#000000","strokeWidth":1.4,"size":3249}},
{"data":{"name":"donuts"},"transform":[{"filter":{"field":"d","oneOf":["b1","b2","b3"]}}],"mark":{"type":"text","fontSize":18.5,"fontWeight":"bold","color":"#000000"},"encoding":{"text":{"field":"t"}}}]}
]},
{"width":422,"height":1,"data":{"values":[{}]},"mark":{"type":"text","text":""}},
{"bounds":"flush","spacing":7,"vconcat":[
{"width":390,"height":130,"view":{"stroke":"#1b7dbf","strokeWidth":2},"encoding":{"x":{"field":"d","type":"nominal","scale":{"type":"point","padding":0.5},"axis":{"orient":"top","labels":false,"ticks":false,"domainColor":"#111111","domainWidth":2,"offset":8,"title":"AdV","titleFontSize":19,"titlePadding":5}}},"layer":[
{"data":{"name":"slices"},"transform":[{"filter":{"field":"d","oneOf":["c1","c2","c3"]}},{"stack":"v","groupby":["d"],"offset":"normalize","as":["t0","t1"]}],"mark":{"type":"arc","innerRadius":28.5,"outerRadius":58,"stroke":"#ffffff","strokeWidth":0.7},"encoding":{"theta":{"field":"t0","type":"quantitative","stack":null,"scale":{"domain":[0,1],"range":[0,6.2832]}},"theta2":{"field":"t1"},"color":{"field":"c","type":"nominal","scale":{"domain":["g","k","O","P","Q","R"],"range":["#d1d3d4","#000000","#f7941d","#fbb05a","#fcc98d","#fde6cc"]},"legend":null}}},
{"data":{"name":"donuts"},"transform":[{"filter":{"field":"d","oneOf":["c1","c2","c3"]}}],"mark":{"type":"point","shape":"circle","filled":false,"opacity":1,"stroke":"#000000","strokeWidth":1.4,"size":13456}},
{"data":{"name":"donuts"},"transform":[{"filter":{"field":"d","oneOf":["c1","c2","c3"]}}],"mark":{"type":"point","shape":"circle","filled":true,"opacity":1,"fill":"#ffffff","stroke":"#000000","strokeWidth":1.4,"size":3249}},
{"data":{"name":"donuts"},"transform":[{"filter":{"field":"d","oneOf":["c1","c2","c3"]}}],"mark":{"type":"text","fontSize":18.5,"fontWeight":"bold","color":"#000000"},"encoding":{"text":{"field":"t"}}}]},
{"width":390,"height":136,"view":{"stroke":"#ee2a34","strokeWidth":2},"encoding":{"x":{"field":"d","type":"nominal","scale":{"type":"point","padding":0.5},"axis":null}},"layer":[
{"data":{"name":"slices"},"transform":[{"filter":{"field":"d","oneOf":["d1","d2","d3"]}},{"stack":"v","groupby":["d"],"offset":"normalize","as":["t0","t1"]}],"mark":{"type":"arc","innerRadius":28.5,"outerRadius":58,"stroke":"#ffffff","strokeWidth":0.7},"encoding":{"theta":{"field":"t0","type":"quantitative","stack":null,"scale":{"domain":[0,1],"range":[0,6.2832]}},"theta2":{"field":"t1"},"color":{"field":"c","type":"nominal","scale":{"domain":["g","k","O","P","Q","R"],"range":["#d1d3d4","#000000","#f7941d","#fbb05a","#fcc98d","#fde6cc"]},"legend":null}}},
{"data":{"name":"donuts"},"transform":[{"filter":{"field":"d","oneOf":["d1","d2","d3"]}}],"mark":{"type":"point","shape":"circle","filled":false,"opacity":1,"stroke":"#000000","strokeWidth":1.4,"size":13456}},
{"data":{"name":"donuts"},"transform":[{"filter":{"field":"d","oneOf":["d1","d2","d3"]}}],"mark":{"type":"point","shape":"circle","filled":true,"opacity":1,"fill":"#ffffff","stroke":"#000000","strokeWidth":1.4,"size":3249}},
{"data":{"name":"donuts"},"transform":[{"filter":{"field":"d","oneOf":["d1","d2","d3"]}}],"mark":{"type":"text","fontSize":18.5,"fontWeight":"bold","color":"#000000"},"encoding":{"text":{"field":"t"}}}]}
]},
{"width":409,"height":1,"data":{"values":[{}]},"mark":{"type":"text","text":""}},
{"width":70,"height":272,"encoding":{"x":{"field":"x","type":"quantitative","scale":{"domain":[0,70],"nice":false},"axis":null},"y":{"field":"y","type":"quantitative","scale":{"domain":[272,0],"nice":false},"axis":null}},"layer":[
{"data":{"name":"swatch"},"mark":{"type":"rect"},"encoding":{"x2":{"field":"x2"},"y2":{"field":"y2"},"color":{"field":"c","type":"nominal","scale":{"domain":["O","P","Q","R"],"range":["#f7941d","#fbb05a","#fcc98d","#fde6cc"]},"legend":null}}},
{"data":{"name":"swatch"},"mark":{"type":"text","fontSize":13.5,"align":"left","dx":22},"encoding":{"y":{"field":"ty","type":"quantitative","scale":{"domain":[272,0],"nice":false},"axis":null},"text":{"field":"t"}}},
{"data":{"name":"legBox"},"mark":{"type":"rect","fillOpacity":0,"strokeWidth":2},"encoding":{"x2":{"field":"x2"},"y2":{"field":"y2"},"stroke":{"field":"s","type":"nominal","scale":{"domain":["b","r"],"range":["#1b7dbf","#ee2a34"]},"legend":null}}},
{"data":{"name":"legText"},"mark":{"type":"text","fontSize":13.5,"align":"left"},"encoding":{"text":{"field":"t"}}},
{"data":{"values":[{"x":0,"x2":67,"y":193.5}]},"mark":{"type":"rule","color":"#222222","strokeWidth":1},"encoding":{"x2":{"field":"x2"}}}
]}
]},
{"width":1,"height":351,"data":{"values":[{}]},"mark":{"type":"text","text":""}},
{"bounds":"flush","spacing":0,"hconcat":[
{"width":69,"height":272,"data":{"values":[{"x":33,"y":-24,"t":"D"}]},"encoding":{"x":{"field":"x","type":"quantitative","scale":{"domain":[0,69],"nice":false},"axis":null},"y":{"field":"y","type":"quantitative","scale":{"domain":[272,0],"nice":false},"axis":null}},"layer":[
{"mark":{"type":"text","fontSize":26,"fontWeight":"bold","align":"left"},"encoding":{"text":{"field":"t"}}},
{"data":{"values":[{"x":48,"y":136,"t":"Day 30"}]},"mark":{"type":"text","fontSize":20,"angle":270},"encoding":{"text":{"field":"t"}}}]},
{"bounds":"flush","spacing":7,"vconcat":[
{"width":390,"height":129,"view":{"stroke":"#1b7dbf","strokeWidth":2},"encoding":{"x":{"field":"d","type":"nominal","scale":{"type":"point","padding":0.5},"axis":{"orient":"top","labels":false,"ticks":false,"domainColor":"#111111","domainWidth":2,"offset":8,"title":"PBS","titleFontSize":19,"titlePadding":5}}},"layer":[
{"data":{"name":"slices"},"transform":[{"filter":{"field":"d","oneOf":["e1","e2","e3"]}},{"stack":"v","groupby":["d"],"offset":"normalize","as":["t0","t1"]}],"mark":{"type":"arc","innerRadius":28.5,"outerRadius":58,"stroke":"#ffffff","strokeWidth":0.7},"encoding":{"theta":{"field":"t0","type":"quantitative","stack":null,"scale":{"domain":[0,1],"range":[0,6.2832]}},"theta2":{"field":"t1"},"color":{"field":"c","type":"nominal","scale":{"domain":["g","k","O","P","Q","R"],"range":["#d1d3d4","#000000","#f7941d","#fbb05a","#fcc98d","#fde6cc"]},"legend":null}}},
{"data":{"name":"donuts"},"transform":[{"filter":{"field":"d","oneOf":["e1","e2","e3"]}}],"mark":{"type":"point","shape":"circle","filled":false,"opacity":1,"stroke":"#000000","strokeWidth":1.4,"size":13456}},
{"data":{"name":"donuts"},"transform":[{"filter":{"field":"d","oneOf":["e1","e2","e3"]}}],"mark":{"type":"point","shape":"circle","filled":true,"opacity":1,"fill":"#ffffff","stroke":"#000000","strokeWidth":1.4,"size":3249}},
{"data":{"name":"donuts"},"transform":[{"filter":{"field":"d","oneOf":["e1","e2","e3"]}}],"mark":{"type":"text","fontSize":18.5,"fontWeight":"bold","color":"#000000"},"encoding":{"text":{"field":"t"}}}]},
{"width":390,"height":136,"view":{"stroke":"#ee2a34","strokeWidth":2},"encoding":{"x":{"field":"d","type":"nominal","scale":{"type":"point","padding":0.5},"axis":null}},"layer":[
{"data":{"name":"slices"},"transform":[{"filter":{"field":"d","oneOf":["f1","f2","f3"]}},{"stack":"v","groupby":["d"],"offset":"normalize","as":["t0","t1"]}],"mark":{"type":"arc","innerRadius":28.5,"outerRadius":58,"stroke":"#ffffff","strokeWidth":0.7},"encoding":{"theta":{"field":"t0","type":"quantitative","stack":null,"scale":{"domain":[0,1],"range":[0,6.2832]}},"theta2":{"field":"t1"},"color":{"field":"c","type":"nominal","scale":{"domain":["g","k","O","P","Q","R"],"range":["#d1d3d4","#000000","#f7941d","#fbb05a","#fcc98d","#fde6cc"]},"legend":null}}},
{"data":{"name":"donuts"},"transform":[{"filter":{"field":"d","oneOf":["f1","f2","f3"]}}],"mark":{"type":"point","shape":"circle","filled":false,"opacity":1,"stroke":"#000000","strokeWidth":1.4,"size":13456}},
{"data":{"name":"donuts"},"transform":[{"filter":{"field":"d","oneOf":["f1","f2","f3"]}}],"mark":{"type":"point","shape":"circle","filled":true,"opacity":1,"fill":"#ffffff","stroke":"#000000","strokeWidth":1.4,"size":3249}},
{"data":{"name":"donuts"},"transform":[{"filter":{"field":"d","oneOf":["f1","f2","f3"]}}],"mark":{"type":"text","fontSize":18.5,"fontWeight":"bold","color":"#000000"},"encoding":{"text":{"field":"t"}}}]}
]},
{"width":422,"height":1,"data":{"values":[{}]},"mark":{"type":"text","text":""}},
{"bounds":"flush","spacing":7,"vconcat":[
{"width":390,"height":129,"view":{"stroke":"#1b7dbf","strokeWidth":2},"encoding":{"x":{"field":"d","type":"nominal","scale":{"type":"point","padding":0.5},"axis":{"orient":"top","labels":false,"ticks":false,"domainColor":"#111111","domainWidth":2,"offset":8,"title":"AdV","titleFontSize":19,"titlePadding":5}}},"layer":[
{"data":{"name":"slices"},"transform":[{"filter":{"field":"d","oneOf":["g1","g2","g3"]}},{"stack":"v","groupby":["d"],"offset":"normalize","as":["t0","t1"]}],"mark":{"type":"arc","innerRadius":28.5,"outerRadius":58,"stroke":"#ffffff","strokeWidth":0.7},"encoding":{"theta":{"field":"t0","type":"quantitative","stack":null,"scale":{"domain":[0,1],"range":[0,6.2832]}},"theta2":{"field":"t1"},"color":{"field":"c","type":"nominal","scale":{"domain":["g","k","O","P","Q","R"],"range":["#d1d3d4","#000000","#f7941d","#fbb05a","#fcc98d","#fde6cc"]},"legend":null}}},
{"data":{"name":"donuts"},"transform":[{"filter":{"field":"d","oneOf":["g1","g2","g3"]}}],"mark":{"type":"point","shape":"circle","filled":false,"opacity":1,"stroke":"#000000","strokeWidth":1.4,"size":13456}},
{"data":{"name":"donuts"},"transform":[{"filter":{"field":"d","oneOf":["g1","g2","g3"]}}],"mark":{"type":"point","shape":"circle","filled":true,"opacity":1,"fill":"#ffffff","stroke":"#000000","strokeWidth":1.4,"size":3249}},
{"data":{"name":"donuts"},"transform":[{"filter":{"field":"d","oneOf":["g1","g2","g3"]}}],"mark":{"type":"text","fontSize":18.5,"fontWeight":"bold","color":"#000000"},"encoding":{"text":{"field":"t"}}}]},
{"width":390,"height":136,"view":{"stroke":"#ee2a34","strokeWidth":2},"encoding":{"x":{"field":"d","type":"nominal","scale":{"type":"point","padding":0.5},"axis":null}},"layer":[
{"data":{"name":"slices"},"transform":[{"filter":{"field":"d","oneOf":["h1","h2","h3"]}},{"stack":"v","groupby":["d"],"offset":"normalize","as":["t0","t1"]}],"mark":{"type":"arc","innerRadius":28.5,"outerRadius":58,"stroke":"#ffffff","strokeWidth":0.7},"encoding":{"theta":{"field":"t0","type":"quantitative","stack":null,"scale":{"domain":[0,1],"range":[0,6.2832]}},"theta2":{"field":"t1"},"color":{"field":"c","type":"nominal","scale":{"domain":["g","k","O","P","Q","R"],"range":["#d1d3d4","#000000","#f7941d","#fbb05a","#fcc98d","#fde6cc"]},"legend":null}}},
{"data":{"name":"donuts"},"transform":[{"filter":{"field":"d","oneOf":["h1","h2","h3"]}}],"mark":{"type":"point","shape":"circle","filled":false,"opacity":1,"stroke":"#000000","strokeWidth":1.4,"size":13456}},
{"data":{"name":"donuts"},"transform":[{"filter":{"field":"d","oneOf":["h1","h2","h3"]}}],"mark":{"type":"point","shape":"circle","filled":true,"opacity":1,"fill":"#ffffff","stroke":"#000000","strokeWidth":1.4,"size":3249}},
{"data":{"name":"donuts"},"transform":[{"filter":{"field":"d","oneOf":["h1","h2","h3"]}}],"mark":{"type":"text","fontSize":18.5,"fontWeight":"bold","color":"#000000"},"encoding":{"text":{"field":"t"}}}]}
]},
{"width":409,"height":1,"data":{"values":[{}]},"mark":{"type":"text","text":""}},
{"width":70,"height":272,"encoding":{"x":{"field":"x","type":"quantitative","scale":{"domain":[0,70],"nice":false},"axis":null},"y":{"field":"y","type":"quantitative","scale":{"domain":[272,0],"nice":false},"axis":null}},"layer":[
{"data":{"name":"swatch"},"mark":{"type":"rect"},"encoding":{"x2":{"field":"x2"},"y2":{"field":"y2"},"color":{"field":"c","type":"nominal","scale":{"domain":["O","P","Q","R"],"range":["#f7941d","#fbb05a","#fcc98d","#fde6cc"]},"legend":null}}},
{"data":{"name":"swatch"},"mark":{"type":"text","fontSize":13.5,"align":"left","dx":22},"encoding":{"y":{"field":"ty","type":"quantitative","scale":{"domain":[272,0],"nice":false},"axis":null},"text":{"field":"t"}}},
{"data":{"name":"legBox"},"mark":{"type":"rect","fillOpacity":0,"strokeWidth":2},"encoding":{"x2":{"field":"x2"},"y2":{"field":"y2"},"stroke":{"field":"s","type":"nominal","scale":{"domain":["b","r"],"range":["#1b7dbf","#ee2a34"]},"legend":null}}},
{"data":{"name":"legText"},"mark":{"type":"text","fontSize":13.5,"align":"left"},"encoding":{"text":{"field":"t"}}},
{"data":{"values":[{"x":0,"x2":67,"y":193.5}]},"mark":{"type":"rule","color":"#222222","strokeWidth":1},"encoding":{"x2":{"field":"x2"}}}
]}
]},
{"width":1,"height":335.7,"data":{"values":[{}]},"mark":{"type":"text","text":""}},
{"bounds":"flush","spacing":0,"hconcat":[
{"width":111.6,"height":1,"data":{"values":[{}]},"mark":{"type":"text","text":""}},
{"width":235.4,"height":235.3,
"encoding":{"x":{"field":"pos","type":"quantitative","scale":{"domain":[0.335,5.333],"nice":false,"zero":false},"axis":{"values":[1,2,3.654,4.654],"labelExpr":"datum.value<2||(datum.value>3&&datum.value<4)?'PBS':'AdV'","tickSize":10,"title":null,"labelFontSize":17,"labelPadding":3}},"y":{"field":"v","type":"quantitative","stack":null,"scale":{"domain":[0,0.5],"nice":false},"axis":{"values":[0,0.1,0.2,0.3,0.4,0.5],"format":".1f","tickSize":9,"labelFontSize":17.5,"labelPadding":4,"title":"D50 index","titleFontSize":18,"titlePadding":6}}},
"layer":[
{"data":{"values":[{"pos":1,"v":0.343},{"pos":2,"v":0.38},{"pos":3.654,"v":0.282},{"pos":4.654,"v":0.472}]},"mark":{"type":"bar","orient":"vertical","width":30,"fill":"#e2e3e2","stroke":"#222222","strokeWidth":1.5}},
{"data":{"values":[{"pos":2.84,"v":0,"v2":0.5}]},"mark":{"type":"rule","strokeDash":[5,3],"strokeWidth":1.5,"color":"#111111"},"encoding":{"y2":{"field":"v2"}}},
{"data":{"values":[{"pos":3.62,"v":0.405},{"pos":3.62,"v":0.51},{"pos":4.64,"v":0.51},{"pos":4.64,"v":0.5}]},"mark":{"type":"line","color":"#444444","strokeWidth":1.3}},
{"data":{"values":[{"pos":1,"v":0.5,"c":"b"},{"pos":1,"v":0.327,"c":"b"},{"pos":1,"v":0.203,"c":"b"},{"pos":2,"v":0.426,"c":"b"},{"pos":2,"v":0.395,"c":"b"},{"pos":2,"v":0.322,"c":"b"},{"pos":3.4,"v":0.337,"c":"r"},{"pos":3.85,"v":0.33,"c":"r"},{"pos":3.62,"v":0.147,"c":"r"},{"pos":4.4,"v":0.49,"c":"r"},{"pos":4.86,"v":0.49,"c":"r"},{"pos":4.62,"v":0.438,"c":"r"}]},"mark":{"type":"point","filled":true,"opacity":1,"stroke":"#111111","strokeWidth":1,"size":100},"encoding":{"fill":{"condition":{"test":"datum.c=='b'","value":"#0f75bc"},"value":"#ee2a24"}}},
{"data":{"values":[{"pos":0.54,"x2":2.47,"v":-0.0765},{"pos":3.15,"x2":5.07,"v":-0.0765}]},"mark":{"type":"rule","color":"#222222","strokeWidth":1.5},"encoding":{"x2":{"field":"x2"}}},
{"data":{"values":[{"pos":1.5,"v":-0.113,"t":"Ly6A⁺"},{"pos":4.11,"v":-0.113,"t":"Ly6A⁻"},{"pos":4.15,"v":0.537,"t":"p<0.05"}]},"mark":{"type":"text","fontSize":17.5},"encoding":{"text":{"field":"t"}}},
{"data":{"values":[{"pos":2.78,"v":0.578,"t":"Day 10"}]},"mark":{"type":"text","fontSize":17.5},"encoding":{"text":{"field":"t"}}},
{"data":{"values":[{"pos":-1.31,"v":0.527,"t":"E"}]},"mark":{"type":"text","fontSize":26,"fontWeight":"bold","align":"left"},"encoding":{"text":{"field":"t"}}}
]},
{"width":150.3,"height":1,"data":{"values":[{}]},"mark":{"type":"text","text":""}},
{"bounds":"flush","spacing":0,"vconcat":[
{"width":1,"height":4.3,"data":{"values":[{}]},"mark":{"type":"text","text":""}},
{"width":231.7,"height":231.7,
"encoding":{"x":{"field":"pos","type":"quantitative","scale":{"domain":[0.335,5.33],"nice":false,"zero":false},"axis":{"values":[1,2,3.67,4.68],"labelExpr":"datum.value<2||(datum.value>3&&datum.value<4)?'PBS':'AdV'","tickSize":10,"title":null,"labelFontSize":17,"labelPadding":3}},"y":{"field":"v","type":"quantitative","stack":null,"scale":{"domain":[0,0.5],"nice":false},"axis":{"values":[0,0.1,0.2,0.3,0.4,0.5],"format":".1f","tickSize":9,"labelFontSize":17.5,"labelPadding":4,"title":"D50 index","titleFontSize":18,"titlePadding":6}}},
"layer":[
{"data":{"values":[{"pos":1,"v":0.234},{"pos":2,"v":0.325},{"pos":3.67,"v":0.045},{"pos":4.68,"v":0.182}]},"mark":{"type":"bar","orient":"vertical","width":30,"fill":"#e2e3e2","stroke":"#222222","strokeWidth":1.5}},
{"data":{"values":[{"pos":2.84,"v":0,"v2":0.5}]},"mark":{"type":"rule","strokeDash":[5,3],"strokeWidth":1.5,"color":"#111111"},"encoding":{"y2":{"field":"v2"}}},
{"data":{"values":[{"pos":3.63,"v":0.294},{"pos":3.63,"v":0.4},{"pos":4.66,"v":0.4},{"pos":4.66,"v":0.39}]},"mark":{"type":"line","color":"#444444","strokeWidth":1.3}},
{"data":{"values":[{"pos":1,"v":0.306,"c":"b"},{"pos":1,"v":0.21,"c":"b"},{"pos":1,"v":0.186,"c":"b"},{"pos":1.77,"v":0.32,"c":"b"},{"pos":2,"v":0.335,"c":"b"},{"pos":2.24,"v":0.324,"c":"b"},{"pos":3.67,"v":0.088,"c":"r"},{"pos":3.67,"v":0.036,"c":"r"},{"pos":3.67,"v":0.012,"c":"r"},{"pos":4.68,"v":0.368,"c":"r"},{"pos":4.68,"v":0.149,"c":"r"},{"pos":4.68,"v":0.031,"c":"r"}]},"mark":{"type":"point","filled":true,"opacity":1,"stroke":"#111111","strokeWidth":1,"size":100},"encoding":{"fill":{"condition":{"test":"datum.c=='b'","value":"#0f75bc"},"value":"#ee2a24"}}},
{"data":{"values":[{"pos":0.53,"x2":2.47,"v":-0.0765},{"pos":3.17,"x2":5.11,"v":-0.0765}]},"mark":{"type":"rule","color":"#222222","strokeWidth":1.5},"encoding":{"x2":{"field":"x2"}}},
{"data":{"values":[{"pos":1.5,"v":-0.113,"t":"Ly6A⁺"},{"pos":4.14,"v":-0.113,"t":"Ly6A⁻"},{"pos":4.18,"v":0.429,"t":"p=0.17"}]},"mark":{"type":"text","fontSize":17.5},"encoding":{"text":{"field":"t"}}},
{"data":{"values":[{"pos":2.785,"v":0.5885,"t":"Day 30"}]},"mark":{"type":"text","fontSize":17.5},"encoding":{"text":{"field":"t"}}},
{"data":{"values":[{"pos":-1.26,"v":0.536,"t":"F"}]},"mark":{"type":"text","fontSize":26,"fontWeight":"bold","align":"left"},"encoding":{"text":{"field":"t"}}}
]}
]}
]},
{"width":1,"height":361,"data":{"values":[{}]},"mark":{"type":"text","text":""}},
{"bounds":"flush","spacing":0,"hconcat":[
{"width":113.4,"height":1,"data":{"values":[{}]},"mark":{"type":"text","text":""}},
{"width":370.1,"height":248,
"encoding":{"x":{"field":"pos","type":"quantitative","scale":{"domain":[-0.43,3.44],"nice":false,"zero":false},"axis":{"values":[0,1,2,3],"labelExpr":"['6','10','14','21'][datum.value]","tickSize":13,"title":"Days post infection","titleFontSize":17.5,"titlePadding":12,"labelFontSize":22,"labelPadding":5}},"y":{"field":"y","type":"quantitative","scale":{"type":"log","domain":[10000,1000000000000],"nice":false},"axis":{"values":[10000,100000,1000000,10000000,100000000,1000000000,10000000000,100000000000,1000000000000],"labelExpr":"'10'+['⁴','⁵','⁶','⁷','⁸','⁹','¹⁰','¹¹','¹²'][round(log(datum.value)/LN10)-4]","tickSize":12,"labelFontSize":19,"labelPadding":2,"title":"genome copies/g","titleFontSize":17.5,"titlePadding":8}}},
"layer":[
{"data":{"values":[{"pos":-0.43,"x2":3.44,"y":120000}]},"mark":{"type":"rule","strokeDash":[2.5,3.5],"strokeWidth":2.6,"color":"#000000"},"encoding":{"x2":{"field":"x2"}}},
{"data":{"values":[{"pos":-0.215,"y":98000000},{"pos":0.81,"y":180000000},{"pos":1.814,"y":6700000000},{"pos":2.817,"y":58000000}]},"mark":{"type":"line","color":"#111111","strokeWidth":1.6}},
{"data":{"values":[{"pos":0.229,"y":120000000},{"pos":1.185,"y":840000000},{"pos":2.173,"y":150000000000},{"pos":3.19,"y":340000000}]},"mark":{"type":"line","color":"#ee2a24","strokeWidth":1.4}},
{"data":{"values":[{"pos":0.8,"y":4300000000},{"pos":0.835,"y":5400000000},{"pos":0.872,"y":150000000},{"pos":0.844,"y":76000000},{"pos":0.784,"y":69000000},{"pos":0.844,"y":14500000},{"pos":1.814,"y":108000000000},{"pos":1.87,"y":33000000000},{"pos":1.819,"y":6600000000},{"pos":1.842,"y":610000000},{"pos":1.79,"y":300000000},{"pos":2.81,"y":120000000},{"pos":2.87,"y":20500000}]},"mark":{"type":"point","shape":"circle","filled":false,"opacity":1,"stroke":"#111111","strokeWidth":1.4,"size":182}},
{"data":{"values":[{"pos":0.159,"y":205000000},{"pos":0.196,"y":36000000},{"pos":0.135,"y":120000000},{"pos":0.229,"y":140000000},{"pos":0.252,"y":116000000},{"pos":0.205,"y":125000000},{"pos":1.189,"y":8600000000},{"pos":1.171,"y":2150000000},{"pos":1.129,"y":1500000000},{"pos":1.245,"y":1860000000},{"pos":1.189,"y":840000000},{"pos":1.171,"y":260000000},{"pos":1.138,"y":150000000},{"pos":1.199,"y":180000000},{"pos":1.24,"y":195000000},{"pos":1.213,"y":220000000},{"pos":2.188,"y":345000000000},{"pos":2.127,"y":240000000000},{"pos":2.211,"y":210000000000},{"pos":2.243,"y":156000000000},{"pos":2.211,"y":100000000000},{"pos":2.155,"y":40000000000},{"pos":2.173,"y":145000000000},{"pos":3.251,"y":210000000},{"pos":3.204,"y":170000000},{"pos":3.134,"y":105000000},{"pos":3.19,"y":260000000},{"pos":3.144,"y":380000000},{"pos":3.218,"y":520000000},{"pos":3.19,"y":630000000},{"pos":3.19,"y":1030000000},{"pos":3.736,"y":48000000000}]},"mark":{"type":"point","shape":"circle","filled":true,"opacity":1,"fill":"#ee2a24","stroke":"#111111","strokeWidth":1,"size":196}},
{"data":{"values":[{"pos":-0.215,"y":98000000},{"pos":0.81,"y":180000000},{"pos":1.814,"y":6700000000},{"pos":2.817,"y":58000000},{"pos":0.229,"y":120000000},{"pos":1.185,"y":840000000},{"pos":2.173,"y":150000000000},{"pos":3.19,"y":340000000}]},"mark":{"type":"tick","orient":"horizontal","size":23,"thickness":1.5,"color":"#111111"}},
{"data":{"values":[{"pos":2,"y":1170000000000,"t":"p<0.0001"},{"pos":2.91,"y":25700000000,"t":"p<0.01"}]},"mark":{"type":"text","fontSize":17.5},"encoding":{"text":{"field":"t"}}},
{"data":{"values":[{"pos":3.96,"y":290000000000,"t":"CD4"},{"pos":3.96,"y":48000000000,"t":"CD4"}]},"mark":{"type":"text","fontSize":23,"align":"left"},"encoding":{"text":{"field":"t"}}},
{"data":{"values":[{"pos":4.43,"y":440000000000,"t":"WT"},{"pos":4.43,"y":63000000000,"t":"ΔTCRα"}]},"mark":{"type":"text","fontSize":18,"align":"left"},"encoding":{"text":{"field":"t"}}},
{"data":{"values":[{"pos":-1.26,"y":26000000000000,"t":"G"}]},"mark":{"type":"text","fontSize":26,"fontWeight":"bold","align":"left"},"encoding":{"text":{"field":"t"}}}
]}
]}
]}
